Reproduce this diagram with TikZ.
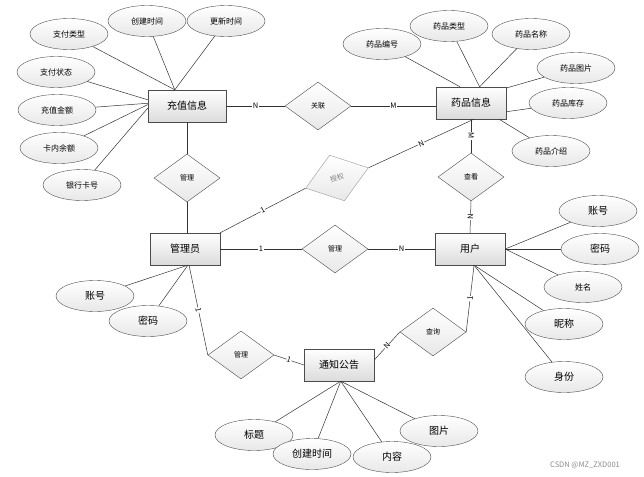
\documentclass[tikz,border=0pt]{standalone}
\usepackage{fontspec}
\setmainfont{Noto Sans CJK SC}
\usetikzlibrary{shapes.geometric}
\tikzstyle{entity} = [rectangle, minimum width=70pt, minimum height=32pt, inner sep=0pt, draw=black!70, top color=white, bottom color=black!14, font=\fontsize{10}{12}\selectfont]
\tikzstyle{attr} = [ellipse, minimum width=78pt, minimum height=31pt, inner sep=0pt, draw=black!70, top color=white, bottom color=black!9, font=\fontsize{8}{10}\selectfont]
\tikzstyle{bigattr} = [attr, font=\fontsize{10}{12}\selectfont]
\tikzstyle{relation} = [diamond, minimum width=66pt, minimum height=48pt, inner sep=0pt, draw=black!70, top color=white, bottom color=black!9, font=\fontsize{7}{9}\selectfont]
\tikzstyle{line} = [draw=black!80, line width=0.5pt]
\tikzstyle{lbl} = [fill=white, inner sep=0.5pt, sloped, font=\fontsize{7.5}{9}\selectfont]

\begin{document}
\begin{tikzpicture}[x=1pt, y=-1pt]
\useasboundingbox (0,0) rectangle (644,476);

% entities
\node (cz) [entity, minimum width=78pt] at (187,106) {充值信息};
\node (yp) [entity] at (471,103) {药品信息};
\node (gly) [entity] at (185,249) {管理员};
\node (yh) [entity] at (470,249) {用户};
\node (tz) [entity] at (339,365) {通知公告};

% relations
\node (gl) [relation] at (318,106) {关联};
\node (gm1) [relation] at (187,178) {管理};
\node (sq) [relation, draw=black!40, rotate=18, text=black!50] at (337,178) {授权};
\node (ck) [relation] at (471,177) {查看};
\node (gm2) [relation] at (335,249) {管理};
\node (gm3) [relation] at (241,355) {管理};
\node (cx) [relation] at (433,332) {查询};

% attributes of 充值信息
\node (zflx) [attr] at (69,34) {支付类型};
\node (cjsj) [attr] at (147,21) {创建时间};
\node (gxsj) [attr] at (226,21) {更新时间};
\node (zfzt) [attr] at (56,72) {支付状态};
\node (czje) [attr] at (57,110) {充值金额};
\node (knye) [attr] at (59,148) {卡内余额};
\node (yhkh) [attr] at (82,185) {银行卡号};

% attributes of 药品信息
\node (ypbh) [attr] at (382,44) {药品编号};
\node (yplx) [attr] at (449,26) {药品类型};
\node (ypmc) [attr] at (531,34) {药品名称};
\node (yptp) [attr] at (576,68) {药品图片};
\node (ypkc) [attr] at (568,103) {药品库存};
\node (ypjs) [attr] at (551,151) {药品介绍};

% attributes of 用户
\node (yhzh) [bigattr] at (598,211) {账号};
\node (yhmm) [bigattr] at (600,249) {密码};
\node (yhxm) [attr] at (583,287) {姓名};
\node (yhnc) [bigattr] at (564,324) {昵称};
\node (yhsf) [bigattr] at (564,377) {身份};

% attributes of 管理员
\node (glzh) [bigattr] at (95,296) {账号};
\node (glmm) [bigattr] at (148,321) {密码};

% attributes of 通知公告
\node (tzbt) [bigattr] at (254,435) {标题};
\node (tzsj) [bigattr] at (312,454) {创建时间};
\node (tznr) [bigattr] at (392,457) {内容};
\node (tztp) [bigattr] at (439,431) {图片};

\draw [line] (zflx) -- (cz.127);
\draw [line] (cjsj) -- (cz.127);
\draw [line] (gxsj) -- (cz.127);
\draw [line] (zfzt) -- (cz.171);
\draw [line] (czje) -- (cz.176);
\draw [line] (knye) -- (cz.178);
\draw [line] (yhkh) -- (cz.183);

\draw [line] (ypbh) -- (yp.124);
\draw [line] (yplx) -- (yp.62);
\draw [line] (ypmc) -- (yp.62);
\draw [line] (yptp) -- (yp.23);
\draw [line] (ypkc) -- (yp.-14);
\draw [line] (ypjs) -- (yp.-30);

\draw [line] (yhzh) -- (yh.east);
\draw [line] (yhmm) -- (yh.east);
\draw [line] (yhxm) -- (yh.east);
\draw [line] (yhnc) -- (yh.-76);
\draw [line] (yhsf) -- (yh.-76);

\draw [line] (glzh) -- (gly.-80);
\draw [line] (glmm) -- (gly.-80);

\draw [line] (tzbt) -- (tz.-84);
\draw [line] (tzsj) -- (tz.-84);
\draw [line] (tznr) -- (tz.-84);
\draw [line] (tztp) -- (tz.-84);

% relationship lines
\draw [line] (cz.east) -- node[lbl] {N} (gl.west);
\draw [line] (gl.east) -- node[lbl] {M} (gl.east -| yp.west);
\draw [line] (cz.south) -- (gm1.north);
\draw [line] (gm1.south) -- (gly.north -| gm1.south);
\draw [line] (gly.north east) -- node[lbl] {1} (sq.west);
\draw [line] (sq.east) -- node[lbl] {N} (yp.-80);
\draw [line] (yp.south) -- node[lbl] {M} (ck.north);
\draw [line] (ck.south) -- node[lbl] {N} (yh.north);
\draw [line] (gly.east) -- node[lbl] {1} (gm2.west);
\draw [line] (gm2.east) -- node[lbl] {N} (yh.west);
\draw [line] (gly.-76) -- node[lbl] {1} (gm3.west);
\draw [line] (gm3.east) -- node[lbl] {1} (tz.west);
\draw [line] (tz.8) -- node[lbl] {N} (cx.west);
\draw [line] (cx.east) -- node[lbl] {1} (yh.-76);

\node (wm) [text=black!45, font=\fontsize{7.5}{9}\selectfont] at (585,465) {CSDN @MZ\_ZXD001};

\end{tikzpicture}
\end{document}
